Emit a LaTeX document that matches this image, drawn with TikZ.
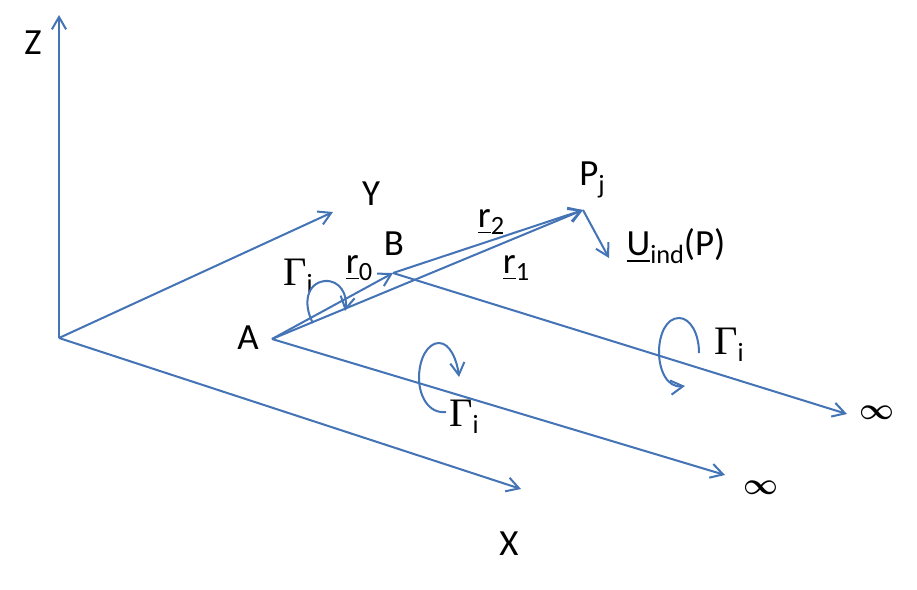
\documentclass[tikz,border=0pt]{standalone}
\usepackage{amsmath,amssymb}
\usepackage{fontspec}
\setmainfont{Carlito}
\newfontfamily\gammafont{Liberation Serif}
\usetikzlibrary{arrows.meta}
\definecolor{vecblue}{RGB}{68,116,182}
\tikzstyle{arrow} = [vecblue,line width=1.15pt,-{Straight Barb[length=7pt,width=10pt,angle'=60]}]
\tikzstyle{label} = [font=\fontsize{21}{24}\selectfont,inner sep=0pt,text=black]
\newcommand{\subs}[1]{\raisebox{-0.2em}{\fontsize{15}{17}\selectfont #1}}
\newcommand{\circul}{{\gammafont\fontsize{23}{24}\selectfont Γ}\subs{i}}
\newcommand{\infsym}{{\fontsize{16.5}{20}\selectfont$\boldsymbol{\infty}$}}

\begin{document}
\begin{tikzpicture}[x=0.02cm,y=-0.02cm]
        \useasboundingbox (0,0) rectangle (917,589);

        % Points
        \coordinate (O) at (59,338);
        \coordinate (Ztip) at (59,15);
        \coordinate (Ytip) at (333,212);
        \coordinate (Xtip) at (521,489);
        \coordinate (A) at (272,339);
        \coordinate (B) at (393,273);
        \coordinate (Pj) at (583,210);
        \coordinate (Utip) at (609,258);
        \coordinate (InfA) at (725,475);
        \coordinate (InfB) at (847,414);

        % Labels
        \node[label] (zlabel) at (33,43) {Z};
        \node[label] (ylabel) at (371,194) {Y};
        \node[label] (xlabel) at (509,544) {X};
        \node[label] (alabel) at (248,338) {A};
        \node[label] (blabel) at (394,244) {B};
        \node[label] (plabel) at (592,180) {P\subs{j}};
        \node[label] (ulabel) at (676,246) {\underline{U}\subs{ind}(P)};
        \node[label] (rzero) at (359,268) {\underline{r}\subs{0}};
        \node[label] (rone) at (516,268) {\underline{r}\subs{1}};
        \node[label] (rtwo) at (491,222) {\underline{r}\subs{2}};
        \node[label] (gammaab) at (298,276) {\circul};
        \node[label] (gammaa) at (464,417) {\circul};
        \node[label] (gammab) at (729,345) {\circul};
        \node[label] (infa) at (761,488) {\infsym};
        \node[label] (infb) at (877,413) {\infsym};

        % Axes
        \draw[arrow] (O) -- (Ztip);
        \draw[arrow] (O) -- (Ytip);
        \draw[arrow] (O) -- (Xtip);

        % Vortex
        \draw[arrow] (A) -- (B);
        \draw[arrow] (A) -- (Pj);
        \draw[arrow] (B) -- (Pj);
        \draw[arrow] (Pj) -- (Utip);
        \draw[arrow] (A) -- (InfA);
        \draw[arrow] (B) -- (InfB);

        % Circulation
        \coordinate (Cab) at (313,323);
        \coordinate (Dab) at (345,311);
        \coordinate (Ca) at (446,412);
        \coordinate (Da) at (459,377);
        \coordinate (Cb) at (699,353);
        \coordinate (Db) at (685,386);
        \draw[arrow] (Cab) .. controls (303,305) and (306,283) .. (325,281) .. controls (340,280) and (348,295) .. (Dab);
        \draw[arrow] (Ca) .. controls (428,414) and (419,395) .. (419,378) .. controls (419,358) and (428,343) .. (439,343) .. controls (450,343) and (457,360) .. (Da);
        \draw[arrow] (Cb) .. controls (699,333) and (690,318) .. (679,318) .. controls (666,318) and (659,335) .. (659,352) .. controls (659,370) and (667,388) .. (Db);
      \end{tikzpicture}
\end{document}
